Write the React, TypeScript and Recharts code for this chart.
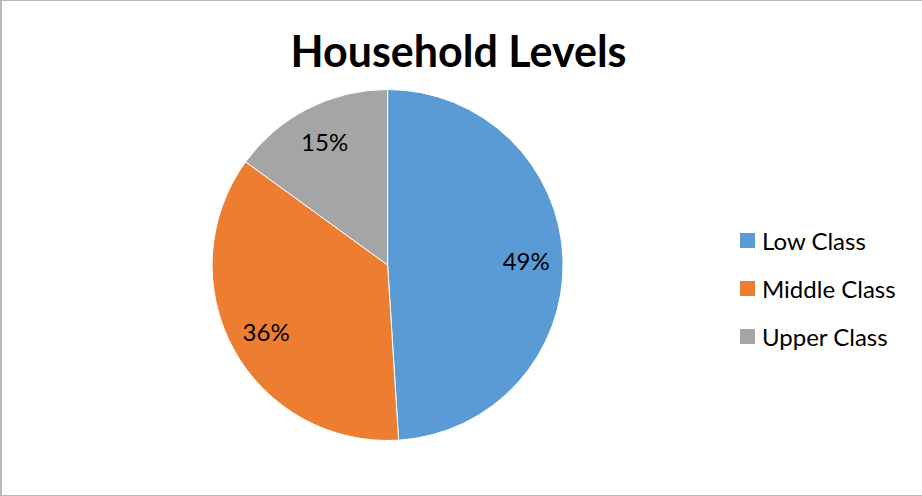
import { Cell, Legend, Pie, PieChart } from "recharts";

const categories = ["Low Class", "Middle Class", "Upper Class"];
const shares = [49, 36, 15];
const colors = ["#5B9BD5", "#ED7D31", "#A5A5A5"];

const FONT = "Lato, 'Open Sans', sans-serif";
const RADIAN = Math.PI / 180;

const data = categories.map((name, i) => ({ name, value: shares[i] }));

function SliceLabel(props: any) {
  const { cx, cy, midAngle, outerRadius, value } = props;
  const r = outerRadius * 0.79;
  const x = cx + r * Math.cos(-midAngle * RADIAN);
  const y = cy + r * Math.sin(-midAngle * RADIAN);
  return (
    <text
      x={x}
      y={y}
      textAnchor="middle"
      dominantBaseline="central"
      fontFamily={FONT}
      fontSize={24}
      fill="#000"
    >
      {`${value}%`}
    </text>
  );
}

function LegendList() {
  return (
    <ul style={{ listStyle: "none", margin: 0, padding: 0 }}>
      {categories.map((name, i) => (
        <li
          key={name}
          style={{
            display: "flex",
            alignItems: "center",
            height: 48,
            fontFamily: FONT,
            fontSize: 24,
            color: "#000",
          }}
        >
          <span
            style={{
              width: 15,
              height: 15,
              background: colors[i],
              display: "inline-block",
              marginRight: 7,
            }}
          />
          {name}
        </li>
      ))}
    </ul>
  );
}

export default function App() {
  return (
    <div
      style={{
        position: "absolute",
        top: 0,
        left: 0,
        width: 922,
        height: 496,
        overflow: "hidden",
        background: "#fff",
      }}
    >
      <div
        style={{
          position: "absolute",
          top: 29,
          left: 0,
          width: 917,
          textAlign: "center",
          fontFamily: FONT,
          fontWeight: 700,
          fontSize: 43,
          lineHeight: "43px",
          color: "#000",
        }}
      >
        Household Levels
      </div>
      <PieChart
        width={922}
        height={496}
        margin={{ top: 0, right: 0, bottom: 0, left: 0 }}
        style={{ position: "absolute", top: 0, left: 0 }}
      >
        <Pie
          data={data}
          dataKey="value"
          nameKey="name"
          cx={387.6}
          cy={265}
          outerRadius={175.5}
          startAngle={90}
          endAngle={-270}
          stroke="#fff"
          strokeWidth={1}
          label={SliceLabel}
          labelLine={false}
          isAnimationActive={false}
        >
          {data.map((d, i) => (
            <Cell key={d.name} fill={colors[i]} />
          ))}
        </Pie>
        <Legend
          content={() => <LegendList />}
          wrapperStyle={{ position: "absolute", left: 740, top: 216, width: 180 }}
        />
      </PieChart>
      <div
        style={{
          position: "absolute",
          top: 0,
          left: 0,
          width: 940,
          height: 496,
          boxSizing: "border-box",
          borderLeft: "2px solid #b9b9b9",
          borderTop: "1px solid #b9b9b9",
          borderBottom: "1px solid #b9b9b9",
          pointerEvents: "none",
        }}
      />
    </div>
  );
}
